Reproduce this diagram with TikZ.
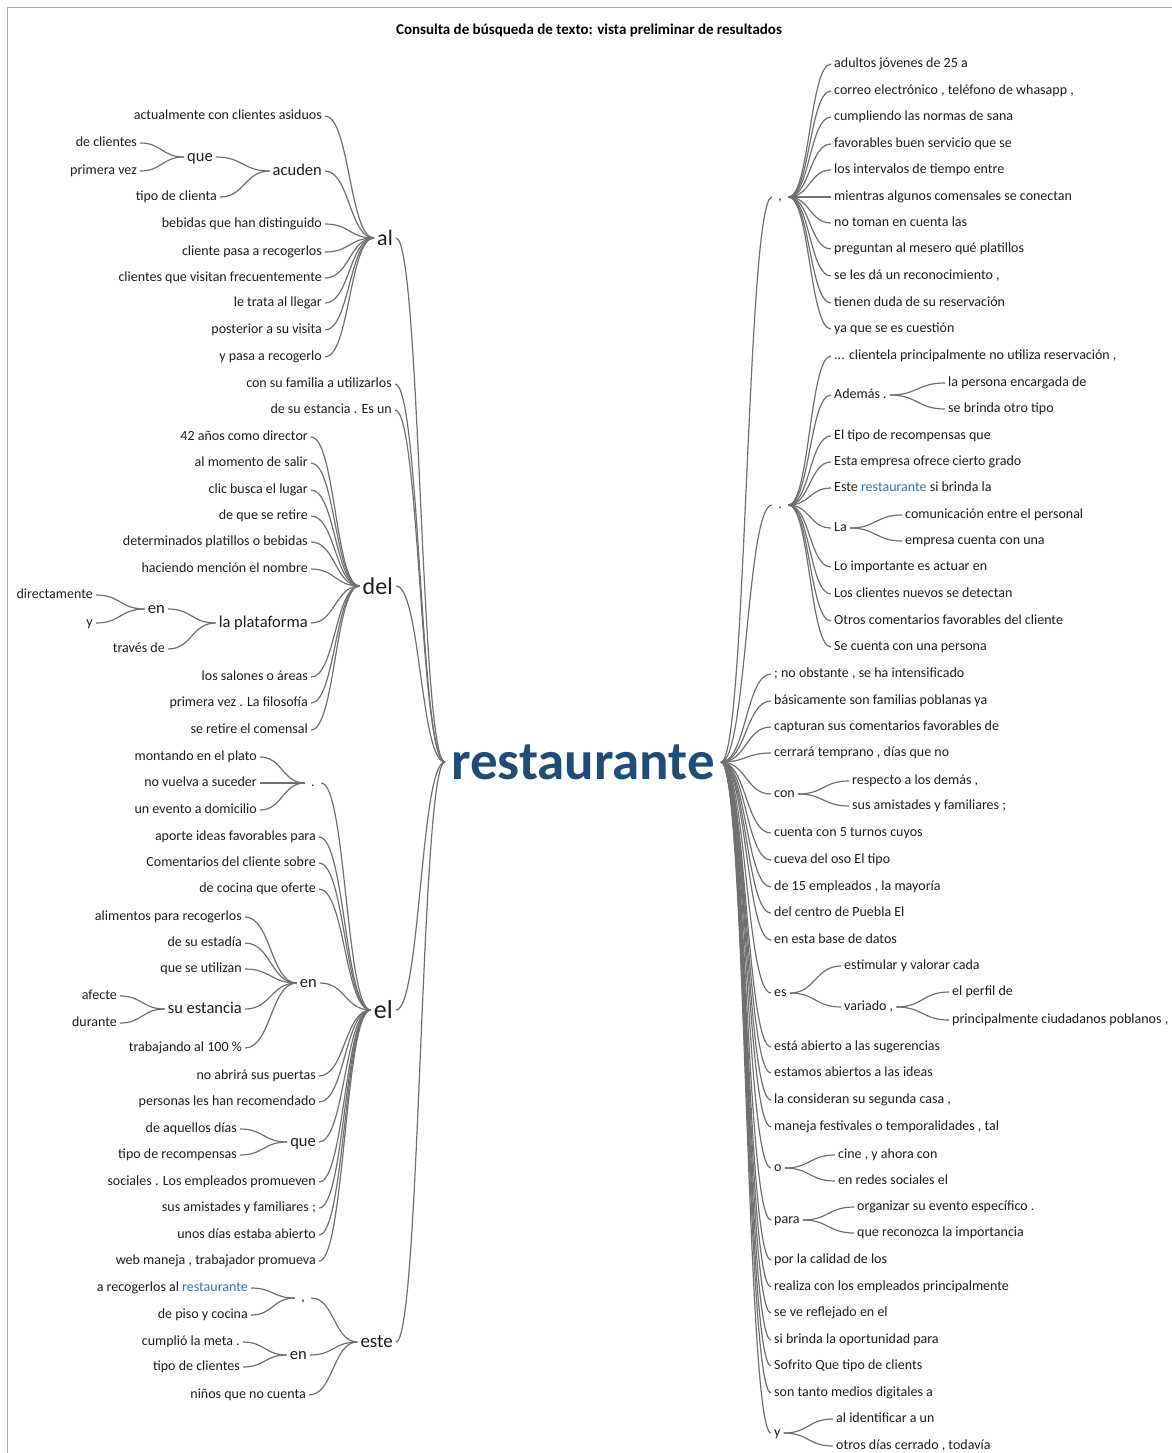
\documentclass[tikz,border=0pt]{standalone}
\usepackage{fontspec}
\setmainfont{Carlito}
\usetikzlibrary{calc}
\definecolor{linkgray}{RGB}{112,112,112}
\definecolor{txt}{RGB}{30,30,30}
\definecolor{rootblue}{RGB}{30,77,120}
\definecolor{hitblue}{RGB}{46,117,182}
\definecolor{framegray}{RGB}{170,170,170}

\tikzset{
  link/.style={draw=linkgray, line width=1.2pt},
  lf/.style={font=\fontsize{14}{16}\selectfont, text=txt, inner sep=3pt, text height=10pt, text depth=3pt},
  md/.style={font=\fontsize{16.5}{18}\selectfont, text=txt, inner sep=3pt, text height=12pt, text depth=3.5pt},
  hub/.style={font=\fontsize{#1}{#1}\selectfont, text=txt, inner sep=3pt},
  punct/.style={lf, minimum width=16pt},
}

% S-shaped connector between two anchors
\newcommand\wlk[2]{\draw[link] let \p1=(#1), \p2=(#2) in
  (\p1) .. controls ({0.5*\x1+0.5*\x2},\y1) and ({0.5*\x1+0.5*\x2},\y2) .. (\p2);}
% leaves on the left of a parent: parent, name prefix, right edge x, list text/y
\newcommand\leftleaves[4]{\foreach \t/\yy [count=\i] in {#4}{%
  \node[lf, anchor=east] (#2-\i) at (#3,\yy) {\t};
  \wlk{#1.west}{#2-\i.east}}}
% leaves on the right of a parent
\newcommand\rightleaves[4]{\foreach \t/\yy [count=\i] in {#4}{%
  \node[lf, anchor=west] (#2-\i) at (#3,\yy) {\t};
  \wlk{#1.east}{#2-\i.west}}}

\begin{document}
\begin{tikzpicture}[x=1pt,y=-1pt]
\useasboundingbox (0,0) rectangle (1172,1453);
\draw[framegray, line width=0.8pt] (7.5,1453) -- (7.5,7.5) -- (1172,7.5);

\node[font=\bfseries\fontsize{15}{17}\selectfont, text=black] (title) at (589,30)
  {Consulta de búsqueda de texto: vista preliminar de resultados};

\node[font=\bfseries\fontsize{55}{60}\selectfont, text=rootblue, inner sep=6pt] (root) at (583,762) {restaurante};

% ---------------- left side ----------------
\node[hub=22, anchor=east] (al) at (396,238) {al};
\node[hub=24, anchor=east] (del) at (396,586) {del};
\node[hub=26, anchor=east] (el) at (396,1010) {el};
\node[hub=19, anchor=east] (este) at (396,1342) {este};
\wlk{root.west}{al.east}
\wlk{root.west}{del.east}
\wlk{root.west}{el.east}
\wlk{root.west}{este.east}
\leftleaves{root}{rL}{395}{con su familia a utilizarlos/384, de su estancia . Es un/410}

% al
\leftleaves{al}{aL}{325}{actualmente con clientes asiduos/116, bebidas que han distinguido/224,
  cliente pasa a recogerlos/252, clientes que visitan frecuentemente/278, le trata al llegar/303,
  posterior a su visita/330, y pasa a recogerlo/357}
\node[md, anchor=east] (acuden) at (325,171) {acuden};
\wlk{al.west}{acuden.east}
\node[md] (que1) at (200,157) {que};
\wlk{acuden.west}{que1.east}
\leftleaves{acuden}{acL}{220}{tipo de clienta/197}
\leftleaves{que1}{qaL}{140}{de clientes/143, primera vez/171}

% del
\leftleaves{del}{dL}{311}{42 años como director/437, al momento de salir/463, clic busca el lugar/490,
  de que se retire/516, determinados platillos o bebidas/542, haciendo mención el nombre/569,
  los salones o áreas/677, primera vez . La filosofía/703, se retire el comensal/730}
\node[md, anchor=east] (plat) at (311,623) {la plataforma};
\wlk{del.west}{plat.east}
\node[md, anchor=east] (ena) at (168,609) {en};
\wlk{plat.west}{ena.east}
\leftleaves{plat}{plL}{168}{través de/649}
\leftleaves{ena}{eaL}{96}{directamente/595, y/623}

% el
\node[punct] (dotL) at (313,783) {.};
\wlk{el.west}{dotL.east}
\leftleaves{dotL}{dtL}{260}{montando en el plato/757, no vuelva a suceder/783, un evento a domicilio/810}
\leftleaves{el}{elL}{319}{aporte ideas favorables para/837, Comentarios del cliente sobre/863,
  de cocina que oferte/889, no abrirá sus puertas/1076, personas les han recomendado/1102,
  sociales . Los empleados promueven/1182, sus amistades y familiares ;/1208,
  unos días estaba abierto/1235, {web maneja , trabajador promueva}/1261}
\node[md, anchor=east] (enb) at (320,983) {en};
\wlk{el.west}{enb.east}
\leftleaves{enb}{ebL}{245}{alimentos para recogerlos/917, de su estadía/943, que se utilizan/969,
  trabajando al 100 \%/1048}
\node[md, anchor=east] (suest) at (245,1009) {su estancia};
\wlk{enb.west}{suest.east}
\leftleaves{suest}{seL}{120}{afecte/996, durante/1023}
\node[md, anchor=east] (queb) at (319,1142) {que};
\wlk{el.west}{queb.east}
\leftleaves{queb}{qbL}{240}{de aquellos días/1129, tipo de recompensas/1155}

% este
\node[punct] (comL) at (303,1298) {,};
\wlk{este.west}{comL.east}
\leftleaves{comL}{cmL}{251}{a recogerlos al \textcolor{hitblue}{restaurante}/1288, de piso y cocina/1315}
\node[md, anchor=east] (enc) at (310,1355) {en};
\wlk{este.west}{enc.east}
\leftleaves{enc}{ecL}{243}{cumplió la meta ./1342, tipo de clientes/1367}
\leftleaves{este}{esL}{309}{niños que no cuenta/1395}

% ---------------- right side ----------------
\node[punct, anchor=west] (comR) at (772,197) {,};
\wlk{root.east}{comR.west}
\rightleaves{comR}{cR}{831}{adultos jóvenes de 25 a/64, {correo electrónico , teléfono de whasapp ,}/91,
  cumpliendo las normas de sana/117, favorables buen servicio que se/144,
  los intervalos de tiempo entre/170, mientras algunos comensales se conectan/197,
  no toman en cuenta las/223, preguntan al mesero qué platillos/249,
  {se les dá un reconocimiento ,}/276, tienen duda de su reservación/303, ya que se es cuestión/329}

\node[punct, anchor=west] (dotR) at (772,505) {.};
\wlk{root.east}{dotR.west}
\rightleaves{dotR}{dR}{831}{{... clientela principalmente no utiliza reservación ,}/356,
  El tipo de recompensas que/436, Esta empresa ofrece cierto grado/462,
  Este \textcolor{hitblue}{restaurante} si brinda la/488, Lo importante es actuar en/567,
  Los clientes nuevos se detectan/594, Otros comentarios favorables del cliente/621,
  Se cuenta con una persona/647}
\node[lf, anchor=west] (ademas) at (831,395) {Además .};
\wlk{dotR.east}{ademas.west}
\rightleaves{ademas}{adR}{945}{la persona encargada de/383, se brinda otro tipo/409}
\node[lf, anchor=west] (laN) at (831,528) {La};
\wlk{dotR.east}{laN.west}
\rightleaves{laN}{laR}{902}{comunicación entre el personal/515, empresa cuenta con una/541}

\rightleaves{root}{rR}{771}{{; no obstante , se ha intensificado}/674, básicamente son familias poblanas ya/701,
  capturan sus comentarios favorables de/727, {cerrará temprano , días que no}/753,
  cuenta con 5 turnos cuyos/833, cueva del oso El tipo/860, {de 15 empleados , la mayoría}/887,
  del centro de Puebla El/913, en esta base de datos/940, está abierto a las sugerencias/1047,
  estamos abiertos a las ideas/1073, {la consideran su segunda casa ,}/1100,
  {maneja festivales o temporalidades , tal}/1127, por la calidad de los/1260,
  realiza con los empleados principalmente/1287, se ve reflejado en el/1313,
  si brinda la oportunidad para/1340, Sofrito Que tipo de clients/1366,
  son tanto medios digitales a/1393}

\node[lf, anchor=west] (conN) at (771,794) {con};
\wlk{root.east}{conN.west}
\rightleaves{conN}{coR}{849}{{respecto a los demás ,}/781, sus amistades y familiares ;/806}

\node[lf, anchor=west] (esN) at (771,993) {es};
\wlk{root.east}{esN.west}
\rightleaves{esN}{esR}{841}{estimular y valorar cada/966}
\node[lf, anchor=west] (variado) at (841,1007) {variado ,};
\wlk{esN.east}{variado.west}
\rightleaves{variado}{vaR}{949}{el perfil de/992, {principalmente ciudadanos poblanos ,}/1020}

\node[lf, anchor=west] (oN) at (771,1168) {o};
\wlk{root.east}{oN.west}
\rightleaves{oN}{oR}{835}{{cine , y ahora con}/1155, en redes sociales el/1181}

\node[lf, anchor=west] (paraN) at (771,1220) {para};
\wlk{root.east}{paraN.west}
\rightleaves{paraN}{paR}{854}{{organizar su evento específico .}/1207, que reconozca la importancia/1233}

\node[lf, anchor=west] (yN) at (771,1433) {y};
\wlk{root.east}{yN.west}
\rightleaves{yN}{yR}{833}{al identificar a un/1419, {otros días cerrado , todavía}/1446}
\end{tikzpicture}
\end{document}
